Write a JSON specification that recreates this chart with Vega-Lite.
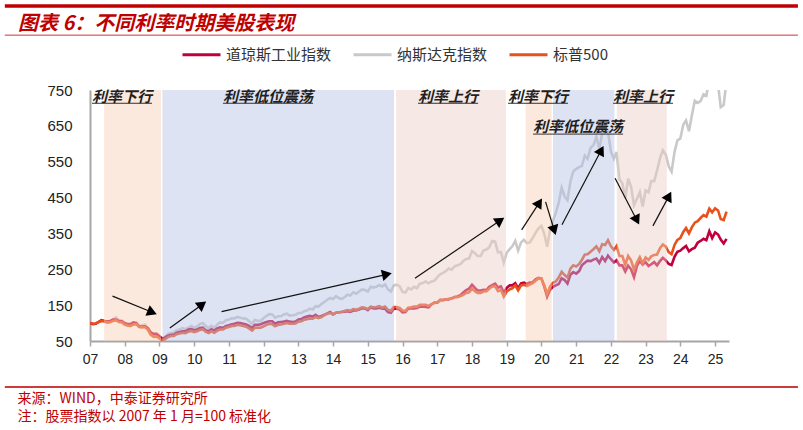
{
  "$schema": "https://vega.github.io/schema/vega-lite/v6.json",
  "width": 639,
  "height": 251,
  "autosize": {"type": "none"},
  "padding": {"left": 90, "top": 90, "right": 74, "bottom": 89},
  "background": "white",
  "config": {
    "view": {"stroke": null},
    "axisX": {
      "grid": false, "domainColor": "#a6a6a6", "domainWidth": 2, "tickColor": "#a6a6a6", "tickSize": 5, "tickWidth": 1.5,
      "labelFont": "Liberation Sans Narrow, Liberation Sans", "labelFontSize": 14, "labelColor": "#222222",
      "labelPadding": 6, "labelFlush": false, "labelOverlap": false,
      "titleFont": "Noto Sans CJK SC", "titleFontSize": 14, "titleFontWeight": "normal", "titleColor": "#c00000",
      "titleX": -73, "titleY": 50, "titleAlign": "left", "titleBaseline": "top", "titleLineHeight": 18, "titleAnchor": "start"
    },
    "axisY": {
      "ticks": false, "grid": false, "domainColor": "#a6a6a6", "domainWidth": 2, "labelOverlap": false,
      "labelFont": "Liberation Sans", "labelFontSize": 15, "labelColor": "#222222", "labelPadding": 18, "labelFlush": false
    }
  },
  "title": {
    "text": "图表 6：不同利率时期美股表现",
    "anchor": "start",
    "frame": "group",
    "dx": -72,
    "dy": 50,
    "font": "Noto Sans CJK SC",
    "fontSize": 20,
    "fontWeight": "bold",
    "fontStyle": "italic",
    "color": "#c00000",
    "baseline": "middle",
    "offset": 10
  },
  "datasets": {
    "idx": [
      {"m":"2007-01","d":100,"n":100,"s":100},{"m":"2007-02","d":97,"n":98,"s":98},{"m":"2007-03","d":98,"n":98,"s":99},{"m":"2007-04","d":103,"n":102,"s":103},{"m":"2007-05","d":108,"n":106,"s":106},{"m":"2007-06","d":106,"n":106,"s":105},{"m":"2007-07","d":105,"n":103,"s":101},{"m":"2007-08","d":106,"n":105,"s":102},{"m":"2007-09","d":110,"n":110,"s":106},{"m":"2007-10","d":110,"n":116,"s":108},{"m":"2007-11","d":106,"n":108,"s":103},{"m":"2007-12","d":105,"n":108,"s":102},
      {"m":"2008-01","d":100,"n":97,"s":96},{"m":"2008-02","d":97,"n":92,"s":93},{"m":"2008-03","d":97,"n":92,"s":92},{"m":"2008-04","d":102,"n":98,"s":96},{"m":"2008-05","d":100,"n":102,"s":97},{"m":"2008-06","d":90,"n":93,"s":89},{"m":"2008-07","d":90,"n":94,"s":88},{"m":"2008-08","d":91,"n":96,"s":89},{"m":"2008-09","d":86,"n":85,"s":81},{"m":"2008-10","d":74,"n":70,"s":67},{"m":"2008-11","d":70,"n":62,"s":62},{"m":"2008-12","d":70,"n":64,"s":63},
      {"m":"2009-01","d":63,"n":60,"s":57},{"m":"2009-02","d":56,"n":56,"s":51},{"m":"2009-03","d":60,"n":62,"s":55},{"m":"2009-04","d":65,"n":70,"s":61},{"m":"2009-05","d":67,"n":72,"s":64},{"m":"2009-06","d":67,"n":74,"s":64},{"m":"2009-07","d":73,"n":80,"s":69},{"m":"2009-08","d":75,"n":82,"s":71},{"m":"2009-09","d":77,"n":86,"s":73},{"m":"2009-10","d":77,"n":83,"s":72},{"m":"2009-11","d":82,"n":87,"s":76},{"m":"2009-12","d":83,"n":92,"s":78},
      {"m":"2010-01","d":80,"n":87,"s":75},{"m":"2010-02","d":82,"n":91,"s":77},{"m":"2010-03","d":86,"n":97,"s":81},{"m":"2010-04","d":87,"n":100,"s":83},{"m":"2010-05","d":80,"n":92,"s":76},{"m":"2010-06","d":77,"n":86,"s":72},{"m":"2010-07","d":83,"n":92,"s":77},{"m":"2010-08","d":79,"n":86,"s":73},{"m":"2010-09","d":85,"n":96,"s":79},{"m":"2010-10","d":88,"n":102,"s":82},{"m":"2010-11","d":87,"n":101,"s":82},{"m":"2010-12","d":92,"n":108,"s":87},
      {"m":"2011-01","d":94,"n":110,"s":89},{"m":"2011-02","d":97,"n":113,"s":92},{"m":"2011-03","d":98,"n":113,"s":92},{"m":"2011-04","d":101,"n":117,"s":95},{"m":"2011-05","d":100,"n":115,"s":94},{"m":"2011-06","d":98,"n":113,"s":92},{"m":"2011-07","d":96,"n":112,"s":90},{"m":"2011-08","d":92,"n":105,"s":85},{"m":"2011-09","d":86,"n":98,"s":79},{"m":"2011-10","d":95,"n":109,"s":87},{"m":"2011-11","d":95,"n":106,"s":87},{"m":"2011-12","d":97,"n":106,"s":87},
      {"m":"2012-01","d":100,"n":114,"s":91},{"m":"2012-02","d":103,"n":120,"s":95},{"m":"2012-03","d":105,"n":125,"s":98},{"m":"2012-04","d":105,"n":124,"s":97},{"m":"2012-05","d":98,"n":115,"s":91},{"m":"2012-06","d":102,"n":119,"s":95},{"m":"2012-07","d":103,"n":119,"s":96},{"m":"2012-08","d":104,"n":124,"s":98},{"m":"2012-09","d":106,"n":126,"s":100},{"m":"2012-10","d":104,"n":121,"s":98},{"m":"2012-11","d":103,"n":122,"s":98},{"m":"2012-12","d":104,"n":123,"s":99},
      {"m":"2013-01","d":110,"n":128,"s":104},{"m":"2013-02","d":111,"n":128,"s":105},{"m":"2013-03","d":116,"n":133,"s":109},{"m":"2013-04","d":118,"n":135,"s":111},{"m":"2013-05","d":120,"n":140,"s":113},{"m":"2013-06","d":118,"n":138,"s":112},{"m":"2013-07","d":123,"n":147,"s":117},{"m":"2013-08","d":117,"n":146,"s":114},{"m":"2013-09","d":120,"n":153,"s":117},{"m":"2013-10","d":123,"n":159,"s":122},{"m":"2013-11","d":127,"n":165,"s":126},{"m":"2013-12","d":131,"n":170,"s":128},
      {"m":"2014-01","d":124,"n":167,"s":124},{"m":"2014-02","d":129,"n":175,"s":129},{"m":"2014-03","d":130,"n":170,"s":130},{"m":"2014-04","d":131,"n":167,"s":131},{"m":"2014-05","d":132,"n":172,"s":134},{"m":"2014-06","d":133,"n":179,"s":136},{"m":"2014-07","d":131,"n":177,"s":134},{"m":"2014-08","d":135,"n":186,"s":139},{"m":"2014-09","d":135,"n":182,"s":137},{"m":"2014-10","d":138,"n":188,"s":140},{"m":"2014-11","d":141,"n":194,"s":144},{"m":"2014-12","d":141,"n":192,"s":143},
      {"m":"2015-01","d":136,"n":188,"s":139},{"m":"2015-02","d":144,"n":201,"s":146},{"m":"2015-03","d":141,"n":199,"s":144},{"m":"2015-04","d":141,"n":201,"s":145},{"m":"2015-05","d":143,"n":206,"s":147},{"m":"2015-06","d":140,"n":202,"s":143},{"m":"2015-07","d":140,"n":208,"s":146},{"m":"2015-08","d":131,"n":194,"s":137},{"m":"2015-09","d":129,"n":188,"s":134},{"m":"2015-10","d":140,"n":205,"s":145},{"m":"2015-11","d":140,"n":207,"s":145},{"m":"2015-12","d":138,"n":203,"s":142},
      {"m":"2016-01","d":130,"n":187,"s":135},{"m":"2016-02","d":131,"n":185,"s":134},{"m":"2016-03","d":140,"n":198,"s":143},{"m":"2016-04","d":141,"n":194,"s":144},{"m":"2016-05","d":141,"n":201,"s":146},{"m":"2016-06","d":142,"n":197,"s":146},{"m":"2016-07","d":146,"n":210,"s":151},{"m":"2016-08","d":146,"n":212,"s":151},{"m":"2016-09","d":145,"n":216,"s":151},{"m":"2016-10","d":144,"n":211,"s":148},{"m":"2016-11","d":152,"n":216,"s":153},{"m":"2016-12","d":157,"n":218,"s":156},
      {"m":"2017-01","d":157,"n":228,"s":158},{"m":"2017-02","d":165,"n":236,"s":164},{"m":"2017-03","d":164,"n":240,"s":164},{"m":"2017-04","d":166,"n":245,"s":166},{"m":"2017-05","d":166,"n":252,"s":168},{"m":"2017-06","d":169,"n":249,"s":168},{"m":"2017-07","d":173,"n":258,"s":172},{"m":"2017-08","d":174,"n":261,"s":172},{"m":"2017-09","d":178,"n":264,"s":175},{"m":"2017-10","d":185,"n":273,"s":179},{"m":"2017-11","d":192,"n":279,"s":184},{"m":"2017-12","d":196,"n":280,"s":186},
      {"m":"2018-01","d":207,"n":301,"s":196},{"m":"2018-02","d":198,"n":295,"s":189},{"m":"2018-03","d":191,"n":287,"s":184},{"m":"2018-04","d":191,"n":287,"s":184},{"m":"2018-05","d":193,"n":302,"s":188},{"m":"2018-06","d":192,"n":305,"s":189},{"m":"2018-07","d":201,"n":311,"s":196},{"m":"2018-08","d":206,"n":329,"s":202},{"m":"2018-09","d":210,"n":327,"s":203},{"m":"2018-10","d":199,"n":297,"s":189},{"m":"2018-11","d":202,"n":298,"s":192},{"m":"2018-12","d":185,"n":269,"s":174},
      {"m":"2019-01","d":198,"n":296,"s":188},{"m":"2019-02","d":205,"n":306,"s":194},{"m":"2019-03","d":205,"n":314,"s":197},{"m":"2019-04","d":211,"n":329,"s":205},{"m":"2019-05","d":197,"n":302,"s":191},{"m":"2019-06","d":211,"n":325,"s":205},{"m":"2019-07","d":213,"n":332,"s":207},{"m":"2019-08","d":209,"n":323,"s":203},{"m":"2019-09","d":213,"n":325,"s":207},{"m":"2019-10","d":214,"n":337,"s":211},{"m":"2019-11","d":222,"n":352,"s":218},{"m":"2019-12","d":226,"n":364,"s":225},
      {"m":"2020-01","d":224,"n":371,"s":224},{"m":"2020-02","d":201,"n":348,"s":205},{"m":"2020-03","d":174,"n":313,"s":180},{"m":"2020-04","d":193,"n":361,"s":202},{"m":"2020-05","d":201,"n":385,"s":212},{"m":"2020-06","d":205,"n":408,"s":216},{"m":"2020-07","d":209,"n":436,"s":227},{"m":"2020-08","d":225,"n":478,"s":243},{"m":"2020-09","d":220,"n":453,"s":234},{"m":"2020-10","d":210,"n":443,"s":227},{"m":"2020-11","d":235,"n":495,"s":252},{"m":"2020-12","d":242,"n":523,"s":261},
      {"m":"2021-01","d":238,"n":530,"s":258},{"m":"2021-02","d":245,"n":535,"s":265},{"m":"2021-03","d":261,"n":538,"s":276},{"m":"2021-04","d":268,"n":567,"s":291},{"m":"2021-05","d":274,"n":558,"s":292},{"m":"2021-06","d":273,"n":589,"s":299},{"m":"2021-07","d":277,"n":596,"s":306},{"m":"2021-08","d":280,"n":619,"s":314},{"m":"2021-09","d":268,"n":586,"s":300},{"m":"2021-10","d":284,"n":629,"s":320},{"m":"2021-11","d":273,"n":631,"s":318},{"m":"2021-12","d":288,"n":635,"s":331},
      {"m":"2022-01","d":278,"n":578,"s":314},{"m":"2022-02","d":269,"n":558,"s":304},{"m":"2022-03","d":275,"n":577,"s":315},{"m":"2022-04","d":261,"n":501,"s":287},{"m":"2022-05","d":261,"n":490,"s":287},{"m":"2022-06","d":244,"n":448,"s":263},{"m":"2022-07","d":260,"n":503,"s":287},{"m":"2022-08","d":250,"n":480,"s":275},{"m":"2022-09","d":228,"n":429,"s":249},{"m":"2022-10","d":259,"n":446,"s":269},{"m":"2022-11","d":274,"n":465,"s":284},{"m":"2022-12","d":263,"n":425,"s":267},
      {"m":"2023-01","d":270,"n":470,"s":283},{"m":"2023-02","d":259,"n":465,"s":276},{"m":"2023-03","d":264,"n":496,"s":286},{"m":"2023-04","d":270,"n":496,"s":290},{"m":"2023-05","d":261,"n":525,"s":291},{"m":"2023-06","d":273,"n":560,"s":309},{"m":"2023-07","d":282,"n":582,"s":319},{"m":"2023-08","d":275,"n":570,"s":313},{"m":"2023-09","d":265,"n":537,"s":298},{"m":"2023-10","d":262,"n":522,"s":292},{"m":"2023-11","d":285,"n":577,"s":318},{"m":"2023-12","d":299,"n":609,"s":332},
      {"m":"2024-01","d":302,"n":615,"s":337},{"m":"2024-02","d":309,"n":653,"s":354},{"m":"2024-03","d":315,"n":665,"s":365},{"m":"2024-04","d":300,"n":635,"s":350},{"m":"2024-05","d":306,"n":679,"s":367},{"m":"2024-06","d":310,"n":720,"s":380},{"m":"2024-07","d":324,"n":714,"s":384},{"m":"2024-08","d":329,"n":719,"s":393},{"m":"2024-09","d":335,"n":738,"s":401},{"m":"2024-10","d":331,"n":734,"s":397},{"m":"2024-11","d":356,"n":780,"s":419},{"m":"2024-12","d":337,"n":784,"s":409},
      {"m":"2025-01","d":353,"n":797,"s":420},{"m":"2025-02","d":347,"n":765,"s":414},{"m":"2025-03","d":333,"n":702,"s":390},{"m":"2025-04","d":322,"n":708,"s":387},{"m":"2025-05","d":335,"n":776,"s":411}
    ],
    "regions": [
      {"s":"2007-05-30","e":"2009-01-17","k":"down"},
      {"s":"2009-01-31","e":"2015-10-04","k":"low"},
      {"s":"2015-10-25","e":"2018-12-24","k":"up"},
      {"s":"2019-07-20","e":"2020-04-18","k":"down"},
      {"s":"2020-05-02","e":"2022-02-07","k":"low"},
      {"s":"2022-03-04","e":"2023-08-12","k":"up"}
    ],
    "arrows": [
      {"id":"a1","x1":"2007-08-26","y1":175,"x2":"2008-10-16","y2":130},
      {"id":"a2","x1":"2009-04-20","y1":86,"x2":"2010-03-26","y2":152},
      {"id":"a3","x1":"2010-10-16","y1":132,"x2":"2015-07-21","y2":236},
      {"id":"a4","x1":"2016-05-11","y1":225,"x2":"2018-10-24","y2":386},
      {"id":"a5","x1":"2019-06-07","y1":360,"x2":"2019-12-10","y2":436},
      {"id":"a6","x1":"2020-02-14","y1":438,"x2":"2020-05-15","y2":359},
      {"id":"a7","x1":"2020-08-04","y1":374,"x2":"2021-09-21","y2":582},
      {"id":"a8","x1":"2022-02-14","y1":504,"x2":"2022-10-01","y2":387},
      {"id":"a9","x1":"2023-03-19","y1":371,"x2":"2023-09-03","y2":454}
    ],
    "labels": [
      {"t":"利率下行","c":"2007-12-03","y":731,"u0":"2007-01-22","u1":"2008-10-14","uy":713},
      {"t":"利率低位震荡","c":"2012-02-16","y":731,"u0":"2010-10-31","u1":"2013-06-04","uy":713},
      {"t":"利率上行","c":"2017-04-24","y":731,"u0":"2016-06-12","u1":"2018-03-06","uy":713},
      {"t":"利率下行","c":"2019-11-26","y":731,"u0":"2019-01-15","u1":"2020-10-07","uy":713},
      {"t":"利率低位震荡","c":"2021-01-21","y":647,"u0":"2019-10-05","u1":"2022-05-09","uy":627},
      {"t":"利率上行","c":"2022-12-05","y":731,"u0":"2022-01-24","u1":"2023-10-16","uy":713}
    ]
  },
  "layer": [
    {
      "data": {"name": "idx"},
      "mark": {"type": "line", "strokeWidth": 2.6, "clip": true},
      "encoding": {
        "x": {
          "field": "m", "type": "temporal",
          "scale": {"domain": [{"year": 2007, "month": 1, "date": 1}, {"year": 2025, "month": 5, "date": 27}], "nice": false},
          "axis": {
            "format": "%y", "tickCount": {"interval": "year", "step": 1}, "labelOverlap": false,
            "title": ["来源：WIND，中泰证券研究所", "注：股票指数以 2007 年 1 月=100 标准化"]
          }
        },
        "y": {
          "field": "n", "type": "quantitative",
          "scale": {"domain": [50, 750], "nice": false, "zero": false},
          "axis": {"values": [50, 150, 250, 350, 450, 550, 650, 750], "labelOverlap": false, "labelBound": false, "tickCount": 8, "title": null}
        },
        "color": {
          "datum": "纳斯达克指数",
          "scale": {"domain": ["道琼斯工业指数", "纳斯达克指数", "标普500"], "range": ["#c0003c", "#c9c9c9", "#e8501c"]},
          "legend": {
            "orient": "none", "legendX": 91, "legendY": -56, "direction": "horizontal", "title": null,
            "symbolType": "stroke", "symbolStrokeWidth": 3, "symbolSize": 1444,
            "labelFont": "Noto Sans CJK SC", "labelFontSize": 15, "labelColor": "#333333",
            "columnPadding": 15, "labelOffset": 4
          }
        }
      }
    },
    {
      "data": {"name": "idx"},
      "mark": {"type": "line", "strokeWidth": 2.6, "clip": true},
      "encoding": {
        "x": {"field": "m", "type": "temporal"},
        "y": {"field": "d", "type": "quantitative"},
        "color": {"datum": "道琼斯工业指数"}
      }
    },
    {
      "data": {"name": "idx"},
      "mark": {"type": "line", "strokeWidth": 2.6, "clip": true},
      "encoding": {
        "x": {"field": "m", "type": "temporal"},
        "y": {"field": "s", "type": "quantitative"},
        "color": {"datum": "标普500"}
      }
    },
    {
      "data": {"name": "regions"},
      "mark": {"type": "rect", "opacity": 0.45},
      "encoding": {
        "x": {"field": "s", "type": "temporal"},
        "x2": {"field": "e"},
        "fill": {"field": "k", "type": "nominal", "scale": {"domain": ["down", "low", "up"], "range": ["#f8cfb4", "#b6c2e4", "#ebccc3"]}, "legend": null}
      }
    },
    {
      "data": {"name": "arrows"},
      "mark": {"type": "rule", "color": "#111111", "strokeWidth": 1.2},
      "encoding": {
        "x": {"field": "x1", "type": "temporal"},
        "y": {"field": "y1", "type": "quantitative"},
        "x2": {"field": "x2"},
        "y2": {"field": "y2"}
      }
    },
    {
      "data": {"name": "arrows"},
      "mark": {"type": "point", "shape": "triangle-up", "filled": true, "color": "#000000", "opacity": 1, "size": 130},
      "encoding": {
        "x": {"field": "x2", "type": "temporal"},
        "y": {"field": "y2", "type": "quantitative"},
        "angle": {"field": "id", "type": "nominal", "scale": {"type": "ordinal", "domain": ["a1","a2","a3","a4","a5","a6","a7","a8","a9"], "range": [112, 53, 77, 56, 33, 163, 28, 153, 28]}, "legend": null}
      }
    },
    {
      "data": {"name": "labels"},
      "mark": {"type": "rule", "color": "#333333", "strokeWidth": 1},
      "encoding": {
        "x": {"field": "u0", "type": "temporal"},
        "x2": {"field": "u1"},
        "y": {"field": "uy", "type": "quantitative"}
      }
    },
    {
      "data": {"name": "labels"},
      "mark": {"type": "text", "font": "Noto Sans CJK SC", "fontSize": 15, "fontWeight": "bold", "fontStyle": "italic", "color": "#1f1f1f", "align": "center", "baseline": "middle"},
      "encoding": {
        "x": {"field": "c", "type": "temporal"},
        "y": {"field": "y", "type": "quantitative"},
        "text": {"field": "t"}
      }
    },
    {
      "data": {"values": [{}]},
      "mark": {"type": "rule", "color": "#c00000", "strokeWidth": 3.5},
      "encoding": {
        "x": {"datum": {"year": 2004, "month": 7, "date": 19}, "type": "temporal"},
        "x2": {"datum": {"year": 2027, "month": 5, "date": 22}},
        "y": {"datum": 984, "type": "quantitative"}
      }
    },
    {
      "data": {"values": [{}]},
      "mark": {"type": "rule", "color": "#d43030", "strokeWidth": 1},
      "encoding": {
        "x": {"datum": {"year": 2004, "month": 7, "date": 19}, "type": "temporal"},
        "x2": {"datum": {"year": 2027, "month": 5, "date": 22}},
        "y": {"datum": 903, "type": "quantitative"}
      }
    },
    {
      "data": {"values": [{}]},
      "mark": {"type": "rule", "color": "#cc3c3c", "strokeWidth": 2},
      "encoding": {
        "x": {"datum": {"year": 2004, "month": 7, "date": 19}, "type": "temporal"},
        "x2": {"datum": {"year": 2027, "month": 5, "date": 22}},
        "y": {"datum": -78, "type": "quantitative"}
      }
    }
  ]
}
